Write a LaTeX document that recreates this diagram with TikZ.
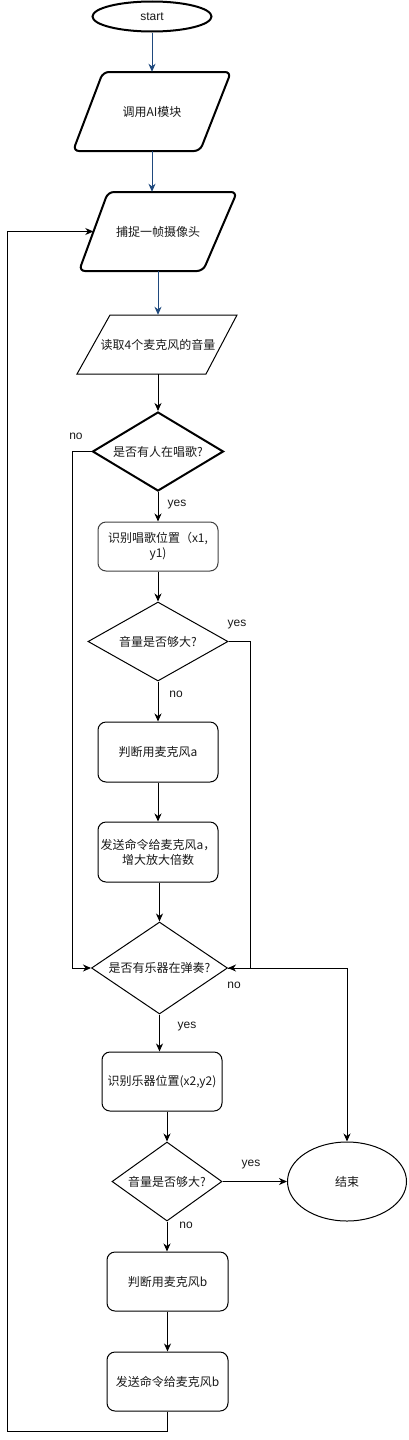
\documentclass[tikz,border=0pt]{standalone}
\usepackage{fontspec}
\setmainfont{Noto Sans CJK SC}
\newfontfamily\latfont{Liberation Sans}
\usetikzlibrary{shapes.geometric,arrows.meta}
\definecolor{arrowblue}{RGB}{31,73,125}
\definecolor{txt}{RGB}{25,25,25}
\begin{document}
\begin{tikzpicture}[x=1pt,y=-1pt,
  font=\fontsize{12}{15}\selectfont,
  every node/.style={text=txt},
  conn/.style={line width=1pt, -{Stealth[length=8pt,width=7pt,inset=2.5pt]}},
  bconn/.style={conn, draw=arrowblue},
  box/.style={draw, rounded corners=8pt, line width=1pt, minimum width=120pt, minimum height=59pt, align=center, inner sep=2pt},
  dia/.style={diamond, draw, line width=1pt, inner sep=0pt, align=center},
  lbl/.style={inner sep=0pt, font=\latfont\fontsize{12}{14}\selectfont},
  txtnode/.style={inner sep=0pt, align=center}]
\useasboundingbox (0,0) rectangle (408,1440);

% start
\node[ellipse, draw, line width=2pt, minimum width=119pt, minimum height=30pt, inner sep=0pt, font=\latfont\fontsize{12}{14}\selectfont] (start) at (152,16.5) {start};

% AI module
\node[txtnode, minimum width=128pt, minimum height=79pt] (ai) at (152,111.5) {调用AI模块};
\draw[line width=2pt, rounded corners=6pt] (167,72) -- (231,72) -- (200,151) -- (73,151) -- (103,72) -- cycle;

% capture
\node[txtnode, minimum width=129pt, minimum height=79pt] (cap) at (158,231.5) {捕捉一帧摄像头};
\draw[line width=2pt, rounded corners=6pt] (172,192) -- (237,192) -- (203,271) -- (79,271) -- (108,192) -- cycle;

% read volume
\node[txtnode, minimum width=129pt, minimum height=59pt] (read) at (158,344.5) {读取4个麦克风的音量};
\draw[line width=1pt] (110,315) -- (237,315) -- (206,374) -- (77,374) -- cycle;

% decision 1
\node[dia, line width=2pt, minimum width=131pt, minimum height=79pt, aspect=1.66] (d1) at (158,451.5) {是否有人在唱歌?};

\node[box, draw=black!75, minimum height=49pt] (b1) at (158,546.5) {识别唱歌位置（x1,\\y1)};

\node[dia, minimum width=140pt, minimum height=79pt, aspect=1.77] (d2) at (158,641.5) {音量是否够大?};

\node[box, minimum height=60pt] (b2) at (158,752) {判断用麦克风a};
\node[box, minimum height=60pt] (b3) at (158,852) {发送命令给麦克风a，\\增大放大倍数};

\node[dia, minimum width=136pt, minimum height=92pt, aspect=1.48] (d3) at (159.5,968) {是否有乐器在弹奏?};

\node[box] (b4) at (162,1081.5) {识别乐器位置(x2,y2)};

\node[dia, minimum width=110pt, minimum height=79pt, aspect=1.39] (d4) at (167,1181.5) {音量是否够大?};

\node[ellipse, draw, line width=1pt, minimum width=119pt, minimum height=79pt, inner sep=0pt] (end) at (347,1181.5) {结束};

\node[box, minimum width=121pt] (b5) at (167.5,1281.5) {判断用麦克风b};
\node[box, minimum width=121pt] (b6) at (167.5,1381.5) {发送命令给麦克风b};

% labels
\node[lbl] (l1) at (76,436) {no};
\node[lbl] (l2) at (177,505) {yes};
\node[lbl] (l3) at (237,625) {yes};
\node[lbl] (l4) at (176,694) {no};
\node[lbl] (l5) at (234,985) {no};
\node[lbl] (l6) at (187,1027) {yes};
\node[lbl] (l7) at (251,1165) {yes};
\node[lbl] (l8) at (186,1225) {no};

% connectors
\draw[bconn] (start) -- (ai.north);
\draw[bconn] (ai.south) -- (ai.south |- cap.north);
\draw[bconn] (cap.south) -- (cap.south |- read.north);
\draw[conn] (read.south) -- (d1.north);
\draw[conn] (d1.south) -- (b1.north);
\draw[conn] (b1.south) -- (d2.north);
\draw[conn] (d2.south) -- (b2.north);
\draw[conn] (b2.south) -- (b3.north);
\draw[conn] (b3.south -| d3.north) -- (d3.north);
\draw[conn] (d1.west) -- ++(-19,0) |- (d3.west);
\draw[conn] (d2.east) -- ++(22,0) |- (d3.east);
\draw[conn] (d3.east) -| (end.north);
\draw[conn] (d3.south) -- (d3.south |- b4.north);
\draw[conn] (b4.south -| d4.north) -- (d4.north);
\draw[conn] (d4.east) -- (end.west);
\draw[conn] (d4.south) -- (d4.south |- b5.north);
\draw[conn] (b5.south) -- (b6.south |- b6.north);
\coordinate (lp) at (7,1431);
\draw[conn] (b6.south) |- (lp) |- (cap.west);
\end{tikzpicture}
\end{document}
